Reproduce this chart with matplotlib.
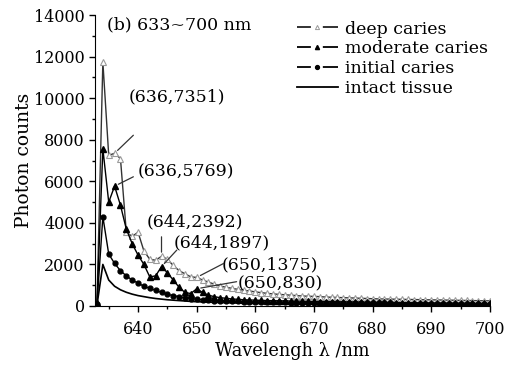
import matplotlib
matplotlib.use("Agg")
import matplotlib.pyplot as plt
from matplotlib.ticker import MultipleLocator
from matplotlib.lines import Line2D

plt.rcParams['font.family'] = ['DejaVu Serif']

wavelength = list(range(633, 701))

deep = [200, 11750, 7250, 7351, 7100, 3550, 3350, 3550, 2650, 2250, 2200, 2392, 2250,
        1950, 1700, 1550, 1400, 1375,
        1250, 1150, 1050, 960, 900, 850, 800, 760, 720, 680, 640, 610, 580, 560, 540,
        520, 500, 480, 470, 460, 450, 430, 420, 410, 400, 390, 380, 370, 360, 350,
        340, 335, 330, 325, 320, 315, 310, 305, 300, 295, 290, 285, 280, 275, 270,
        265, 260, 255, 250, 250]

moderate = [150, 7570, 5000, 5769, 4850, 3700, 3000, 2450, 2000, 1400, 1450, 1897, 1600,
            1250, 900, 650, 600, 830,
            650, 520, 450, 400, 370, 340, 320, 300, 290, 280, 270, 260, 255, 250, 245,
            240, 235, 230, 225, 220, 215, 210, 205, 200, 200, 195, 190, 185, 180, 180,
            175, 170, 170, 165, 160, 160, 155, 155, 150, 150, 145, 145, 140, 140, 135,
            135, 130, 130, 130, 125]

initial = [100, 4300, 2500, 2050, 1700, 1450, 1250, 1100, 950, 850, 750, 650, 560,
           500, 450, 400, 360, 330,
           300, 280, 260, 250, 240, 230, 220, 210, 200, 195, 190, 185, 180, 175, 170,
           165, 160, 158, 155, 152, 150, 148, 145, 142, 140, 138, 135, 132, 130, 128,
           125, 122, 120, 118, 116, 114, 112, 110, 108, 106, 104, 102, 100, 98, 96,
           95, 94, 93, 92, 90]

intact = [50, 2000, 1250, 950, 780, 660, 570, 500, 450, 400, 360, 330, 300,
          280, 260, 240, 220, 205,
          195, 185, 175, 165, 158, 150, 143, 137, 131, 125, 120, 115, 110, 106, 102,
          98, 95, 92, 89, 86, 83, 80, 78, 76, 74, 72, 70, 68, 66, 64, 62, 61, 60,
          59, 58, 57, 56, 55, 54, 53, 52, 51, 50, 49, 48, 47, 46, 45, 44, 43]

labels = ["deep caries", "moderate caries", "initial caries", "intact tissue"]

# (point, label, label centre, connector start)
annotations = [((636, 7351), "(636,7351)", (646.7, 10050), (639.2, 8220)),
               ((636, 5769), "(636,5769)", (648.2, 6440), (639.2, 6220)),
               ((644, 2392), "(644,2392)", (649.7, 4040), (644.0, 3330)),
               ((644, 1897), "(644,1897)", (654.3, 3030), (646.6, 2690)),
               ((650, 1375), "(650,1375)", (662.5, 1970), (654.6, 2050)),
               ((650, 830), "(650,830)", (664.2, 1060), (656.8, 1170))]

fig = plt.figure(figsize=(5.12, 3.70), dpi=100)
ax = fig.add_axes([0.186, 0.173, 0.771, 0.786])

ax.plot(wavelength, deep, color='#333333', lw=1.0, marker='^', ms=4,
        mfc='white', mec='#9a9a9a', mew=0.8)
ax.plot(wavelength, moderate, color='black', lw=1.0, marker='^', ms=3.8,
        mfc='black', mec='black')
ax.plot(wavelength, initial, color='black', lw=1.0, marker='o', ms=3.5,
        mfc='black', mec='black')
ax.plot(wavelength, intact, color='black', lw=1.2)

for xy, txt, xyt, start in annotations:
    ax.text(xyt[0], xyt[1], txt, fontsize=12.5, ha='center', va='center')
    ax.annotate('', xy=xy, xytext=start,
                arrowprops=dict(arrowstyle='-', color='#333333', lw=0.9,
                                shrinkA=0, shrinkB=3))

ax.set_xlim(632.7, 700)
ax.set_ylim(0, 14000)
ax.xaxis.set_major_locator(MultipleLocator(10))
ax.xaxis.set_minor_locator(MultipleLocator(5))
ax.yaxis.set_major_locator(MultipleLocator(2000))
ax.yaxis.set_minor_locator(MultipleLocator(1000))
ax.spines['top'].set_visible(False)
ax.spines['right'].set_visible(False)
ax.tick_params(axis='both', which='major', length=4, width=1, labelsize=11.5, direction='out')
ax.tick_params(axis='x', which='major', pad=7)
ax.tick_params(axis='both', which='minor', length=2.5, width=1, direction='out')
ax.set_xticks([640, 650, 660, 670, 680, 690, 700])

ax.set_xlabel("Wavelengh λ /nm", fontsize=12.8, labelpad=3)
ax.set_ylabel("Photon counts", fontsize=13.5, labelpad=1)

ax.text(0.03, 0.965, "(b) 633~700 nm", transform=ax.transAxes, fontsize=12.5,
        ha='left', va='center')

lw_leg = 1.3
dash = (0, (10 / lw_leg, 8.6 / lw_leg, 30 / lw_leg, 1))
handles = [
    Line2D([], [], color='#222222', lw=lw_leg, ls=dash, marker='^', ms=3,
           mfc='white', mec='#999999', mew=0.7),
    Line2D([], [], color='black', lw=lw_leg, ls=dash, marker='^', ms=3,
           mfc='black', mec='black'),
    Line2D([], [], color='black', lw=lw_leg, ls=dash, marker='o', ms=2.8,
           mfc='black', mec='black'),
    Line2D([], [], color='black', lw=lw_leg, ls='-'),
]

leg = fig.legend(handles, labels, loc='upper left',
                 bbox_to_anchor=(297 / 512, 1 - 20.5 / 370),
                 bbox_transform=fig.transFigure, frameon=False,
                 fontsize=12.5, handlelength=2.36, handletextpad=0.4,
                 labelspacing=0.17, borderpad=0, borderaxespad=0, numpoints=1)

fig.savefig("out.png", dpi=100)
